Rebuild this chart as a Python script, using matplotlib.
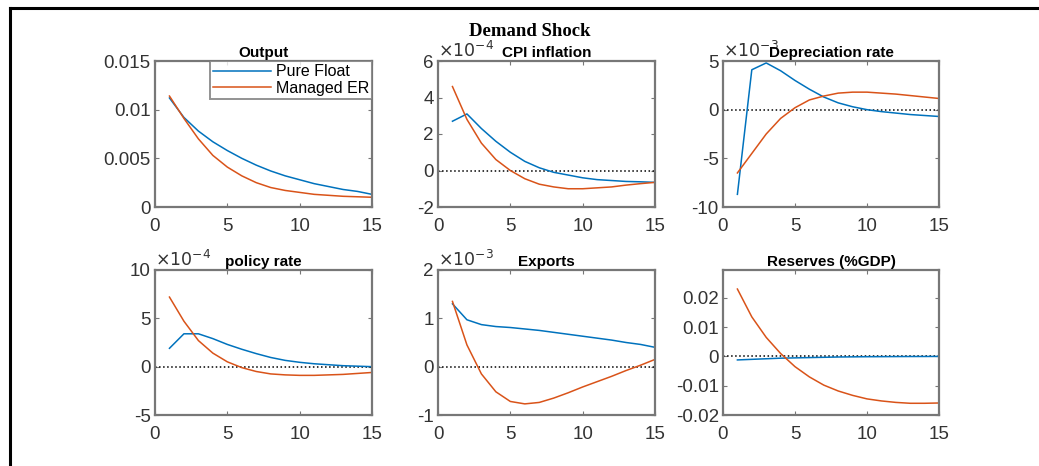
import numpy as np
import matplotlib
matplotlib.use('Agg')
import matplotlib.pyplot as plt
from matplotlib.lines import Line2D

plt.rcParams['font.family'] = ['Liberation Sans', 'DejaVu Sans']

# horizon (quarters)
periods = np.arange(1, 16)

# Output
output_pf = [0.0112, 0.0092, 0.0078, 0.0067, 0.0058, 0.0050, 0.0043, 0.0037,
             0.0032, 0.0028, 0.0024, 0.0021, 0.0018, 0.0016, 0.0013]
output_me = [0.0114, 0.0091, 0.0070, 0.0053, 0.0041, 0.0032, 0.0025, 0.0020,
             0.0017, 0.0015, 0.0013, 0.0012, 0.0011, 0.00105, 0.0010]

# CPI inflation (x 1e-4)
cpi_pf = [2.7, 3.1, 2.3, 1.6, 1.0, 0.5, 0.15, -0.1, -0.25, -0.4, -0.5, -0.55,
          -0.6, -0.62, -0.65]
cpi_me = [4.6, 2.8, 1.5, 0.6, 0.0, -0.45, -0.75, -0.9, -1.0, -1.0, -0.95,
          -0.9, -0.8, -0.72, -0.65]

# Depreciation rate (x 1e-3)
dep_pf = [-8.7, 4.1, 4.8, 4.0, 3.0, 2.1, 1.3, 0.7, 0.3, 0.0, -0.2, -0.35,
          -0.5, -0.6, -0.7]
dep_me = [-6.5, -4.5, -2.5, -0.9, 0.2, 1.0, 1.4, 1.7, 1.8, 1.8, 1.7, 1.6,
          1.45, 1.3, 1.15]

# policy rate (x 1e-4)
pol_pf = [1.9, 3.4, 3.4, 2.9, 2.3, 1.8, 1.35, 0.95, 0.65, 0.45, 0.3, 0.2,
          0.1, 0.05, 0.0]
pol_me = [7.2, 4.7, 2.7, 1.4, 0.5, -0.1, -0.5, -0.75, -0.85, -0.9, -0.9,
          -0.85, -0.8, -0.7, -0.6]

# Exports (x 1e-3)
exp_pf = [1.3, 0.97, 0.87, 0.83, 0.81, 0.78, 0.75, 0.71, 0.67, 0.63, 0.59,
          0.55, 0.5, 0.46, 0.4]
exp_me = [1.35, 0.45, -0.15, -0.52, -0.72, -0.77, -0.74, -0.65, -0.54,
          -0.42, -0.31, -0.2, -0.08, 0.03, 0.15]

# Reserves (%GDP)
res_pf = [-0.0012, -0.0010, -0.0008, -0.0006, -0.0005, -0.0004, -0.0003,
          -0.0002, -0.00015, -0.0001, -0.00008, -0.00005, -0.00003, -0.00002, 0.0]
res_me = [0.023, 0.0135, 0.0065, 0.001, -0.0035, -0.007, -0.0098, -0.0118,
          -0.0133, -0.0145, -0.0152, -0.0157, -0.0160, -0.0160, -0.0159]

blue = '#0072BD'
orange = '#D95319'
grey_txt = '#333333'
spine_col = '#777777'

panels = [
    ('Output', output_pf, output_me, (0, 0.015), [0, 0.005, 0.01, 0.015],
     ['0', '0.005', '0.01', '0.015'], None, False),
    ('CPI inflation', cpi_pf, cpi_me, (-2, 6), [-2, 0, 2, 4, 6],
     ['-2', '0', '2', '4', '6'], '-4', True),
    ('Depreciation rate', dep_pf, dep_me, (-10, 5), [-10, -5, 0, 5],
     ['-10', '-5', '0', '5'], '-3', True),
    ('policy rate', pol_pf, pol_me, (-5, 10), [-5, 0, 5, 10],
     ['-5', '0', '5', '10'], '-4', True),
    ('Exports', exp_pf, exp_me, (-1, 2), [-1, 0, 1, 2],
     ['-1', '0', '1', '2'], '-3', True),
    ('Reserves (%GDP)', res_pf, res_me, (-0.02, 0.0295),
     [-0.02, -0.01, 0, 0.01, 0.02], ['-0.02', '-0.01', '0', '0.01', '0.02'],
     None, True),
]

W, H = 1039, 466
fig = plt.figure(figsize=(W / 100, H / 100), dpi=100)

# axes boxes in pixels: left, right, top, bottom
cols = [(155, 372), (438, 655), (723, 939)]
rows = [(61, 207), (270, 415)]

for i, (title, pf, me, ylim, yt, ytl, expo, zero) in enumerate(panels):
    r, c = divmod(i, 3)
    l, rr = cols[c]
    t, b = rows[r]
    ax = fig.add_axes([l / W, 1 - b / H, (rr - l) / W, (b - t) / H])
    if zero:
        ax.plot([0, 15], [0, 0], color='black', linestyle=':', linewidth=1.1)
    ax.plot(periods, pf, color=blue, linewidth=1.1, label='Pure Float')
    ax.plot(periods, me, color=orange, linewidth=1.1, label='Managed ER')
    ax.set_xlim(0, 15)
    ax.set_ylim(*ylim)
    ax.set_xticks([0, 5, 10, 15])
    ax.set_yticks(yt)
    ax.set_yticklabels(ytl)
    ax.tick_params(direction='in', length=3, width=0.8, colors=spine_col,
                   labelcolor=grey_txt, labelsize=13.5, top=True, right=True)
    ax.tick_params(axis='x', pad=8)
    ax.tick_params(axis='y', pad=3)
    for s in ax.spines.values():
        s.set_color(spine_col)
        s.set_linewidth(1.6)
    ax.set_title(title, fontsize=11, fontweight='bold', color='black', pad=3)
    if expo is not None:
        ax.text(0.0, 1.0, r'$\times10^{%s}$' % expo, transform=ax.transAxes,
                fontsize=12.5, color=grey_txt, ha='left', va='bottom',
                fontfamily='DejaVu Sans')
    if i == 0:
        leg = ax.legend(loc='upper right', fontsize=11.5, frameon=True,
                        fancybox=False, borderpad=0.2, handlelength=3.6,
                        labelspacing=0.1, handletextpad=0.3,
                        borderaxespad=0.0)
        leg.get_frame().set_edgecolor(spine_col)
        leg.get_frame().set_linewidth(1.4)

fig.text(530 / W, 1 - 32 / H, 'Demand Shock', ha='center', va='center',
         fontsize=13.5, fontweight='bold', fontfamily='Liberation Serif')

# outer frame (left and top edges visible)
fig.add_artist(Line2D([10 / W, 10 / W], [0, 1 - 8 / H], transform=fig.transFigure,
                      color='black', linewidth=2.2))
fig.add_artist(Line2D([10 / W, 1], [1 - 8 / H, 1 - 8 / H], transform=fig.transFigure,
                      color='black', linewidth=2.2))

fig.savefig('out.png', dpi=100)
